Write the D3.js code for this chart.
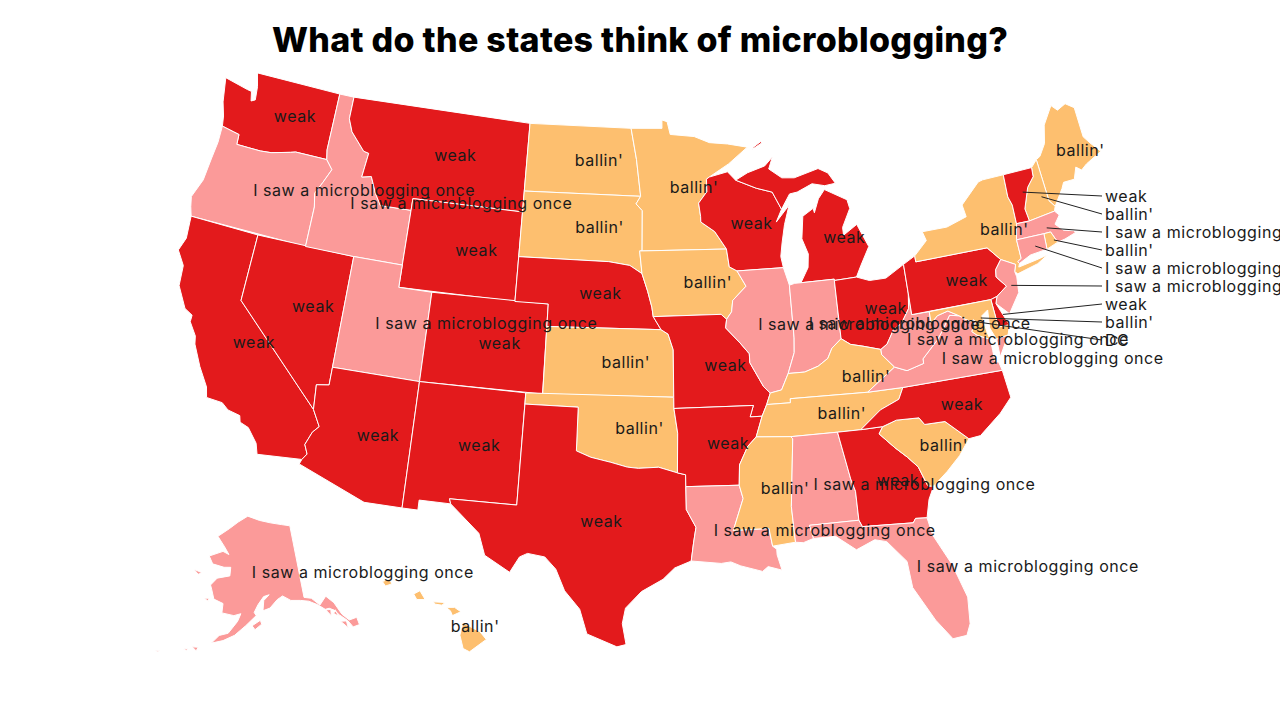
<!DOCTYPE html>
<html>
<head>
<meta charset="utf-8">
<script src="https://cdn.jsdelivr.net/npm/d3@7"></script>
<style>
  html, body { margin: 0; background: #fff; }
  text { font-family: Inter, "Open Sans", sans-serif; fill: #1a1a1a; }
</style>
</head>
<body>
<svg id="chart"></svg>
<script>
// map.js

var title = "What do the states think of microblogging?";

var categories = ["weak", "I saw a microblogging once", "ballin'"];
var palette = ["#e31a1c", "#fb9a99", "#fdbf6f"];

var stateCodes = ["WA","OR","CA","NV","ID","MT","WY","UT","AZ","CO","NM","ND","SD","NE","KS","OK","TX",
  "MN","IA","MO","AR","LA","WI","IL","MI","IN","OH","KY","TN","MS","AL","GA","FL","SC","NC","VA","WV",
  "PA","NY","ME","NH","VT","MA","RI","CT","NJ","DE","MD","DC","AK","HI"];

// index into categories, same order as stateCodes
var stateValues = [0,1,0,0,1,0,0,1,0,0,0,2,2,0,2,2,0,
  2,2,0,0,1,0,1,0,1,0,2,2,2,1,0,1,2,0,1,1,
  0,2,2,2,0,1,2,1,1,0,2,1,1,2];

// the small eastern states get a line out to the right instead
var calloutStates = ["VT","NH","MA","RI","CT","NJ","DE","MD","DC"];
var calloutTexts = ["weak","ballin'","I saw a microblogging once","ballin'","I saw a microblogging once",
  "I saw a microblogging once","weak","ballin'","DC"];

// state outlines, "lon,lat"
var stateRings = {
  WA: ["-124.7,48.38 -123.1,48.15 -122.8,48.12 -122.65,47.7 -122.4,47.8 -122.5,48.4 -122.76,49 -117.03,49 -117.04,46.42 -116.92,45.99 -118.98,46 -119.3,45.93 -120.5,45.7 -121.2,45.65 -122,45.65 -122.76,45.65 -122.8,46.1 -123.2,46.15 -123.98,46.25 -124.1,46.7 -124.4,47.3"],
  OR: ["-123.98,46.25 -123.2,46.15 -122.8,46.1 -122.76,45.65 -122,45.65 -121.2,45.65 -120.5,45.7 -119.3,45.93 -118.98,46 -116.92,45.99 -116.46,45.6 -116.85,44.95 -117.2,44.4 -117.03,43.8 -117.03,42 -124.21,42 -124.4,42.4 -124.55,42.84 -124.15,43.7 -124.05,44.7 -123.95,45.5"],
  CA: ["-124.21,42 -120,42 -120,39 -114.63,35 -114.14,34.3 -114.45,34 -114.72,33.4 -114.5,33 -114.72,32.72 -117.12,32.53 -117.3,33 -117.9,33.6 -118.4,33.75 -118.5,34.03 -119.2,34.15 -119.6,34.4 -120.5,34.45 -120.65,34.9 -121.3,35.7 -121.9,36.6 -122,36.95 -122.5,37.5 -122.5,37.8 -123,38 -123.7,38.9 -123.8,39.8 -124.35,40.4 -124.1,41"],
  NV: ["-120,42 -114.04,42 -114.04,36.2 -114.74,36.1 -114.63,35 -120,39"],
  ID: ["-117.03,49 -116.05,49 -116.05,48 -115.7,47.45 -114.7,46.7 -114.35,46.65 -114.5,45.55 -113.9,45.65 -113.45,44.95 -113,44.45 -111.05,44.47 -111.05,42 -114.04,42 -117.03,42 -117.03,43.8 -117.2,44.4 -116.85,44.95 -116.46,45.6 -116.92,45.99 -117.04,46.42"],
  MT: ["-116.05,49 -104.05,49 -104.05,45 -111.05,45 -111.05,44.47 -113,44.45 -113.45,44.95 -113.9,45.65 -114.5,45.55 -114.35,46.65 -114.7,46.7 -115.7,47.45 -116.05,48"],
  WY: ["-111.05,45 -104.05,45 -104.05,41 -111.05,41"],
  UT: ["-114.04,42 -111.05,42 -111.05,41 -109.05,41 -109.05,37 -114.04,37"],
  AZ: ["-114.04,37 -109.05,37 -109.05,31.33 -111.07,31.33 -114.81,32.5 -114.72,32.72 -114.5,33 -114.72,33.4 -114.45,34 -114.14,34.3 -114.63,35 -114.74,36.1 -114.04,36.2"],
  CO: ["-109.05,41 -102.05,41 -102.05,37 -109.05,37"],
  NM: ["-109.05,37 -103,37 -103.04,32 -106.62,32 -106.53,31.78 -108.21,31.78 -108.21,31.33 -109.05,31.33"],
  ND: ["-104.05,49 -97.23,49 -96.85,47.6 -96.56,45.94 -104.05,45.94"],
  SD: ["-104.05,45.94 -96.56,45.94 -96.85,45.6 -96.45,45.3 -96.45,43.5 -96.6,43.5 -96.45,42.49 -97.2,42.85 -98.5,43 -104.05,43"],
  NE: ["-104.05,43 -98.5,43 -97.2,42.85 -96.45,42.49 -96.1,41.7 -95.85,41 -95.77,40.58 -95.31,40 -102.05,40 -102.05,41 -104.05,41"],
  KS: ["-102.05,40 -95.31,40 -94.9,39.8 -94.61,39.1 -94.62,37 -102.04,37"],
  OK: ["-103,37 -94.62,37 -94.62,36.5 -94.43,35.4 -94.48,33.64 -95.5,33.9 -96.6,33.85 -97.2,33.9 -98.1,34.1 -99.2,34.3 -100,34.56 -100,36.5 -103,36.5"],
  TX: ["-106.62,32 -103.04,32 -103,36.5 -100,36.5 -100,34.56 -99.2,34.3 -98.1,34.1 -97.2,33.9 -96.6,33.85 -95.5,33.9 -94.48,33.64 -94.04,33.55 -94.04,33.02 -94.04,32 -93.55,31.2 -93.7,30.5 -93.84,29.7 -94.7,29.4 -95.3,28.9 -96.4,28.35 -97.2,27.6 -97.35,26.9 -97.15,25.96 -97.6,25.85 -99.1,26.4 -99.5,27.5 -100.3,28.3 -100.8,29.25 -101.4,29.77 -102.3,29.88 -102.7,29.7 -103.15,28.98 -104.5,29.65 -104.9,30.6 -106.53,31.78"],
  MN: ["-97.23,49 -95.15,49 -95.15,49.38 -94.8,49.3 -94.6,48.72 -93,48.6 -92,48.3 -90.8,48.2 -89.5,48 -90.8,47.3 -92.1,46.75 -92.29,46.66 -92.29,46.1 -92.85,45.6 -92.75,45 -92.75,44.75 -91.9,44.3 -91.22,43.5 -96.45,43.5 -96.45,45.3 -96.85,45.6 -96.56,45.94 -96.85,47.6"],
  IA: ["-96.6,43.5 -96.45,43.5 -91.22,43.5 -91.1,42.7 -90.64,42.5 -90.15,41.8 -91,41.2 -91.1,40.7 -91.42,40.38 -91.73,40.61 -95.77,40.58 -95.85,41 -96.1,41.7 -96.45,42.49"],
  MO: ["-95.77,40.58 -91.73,40.61 -91.42,40.38 -91.5,40 -90.7,39.3 -90.2,38.8 -90.2,38.4 -89.5,37.3 -89.15,37 -89.4,36.5 -89.7,36 -90.37,36 -90.15,36.5 -94.62,36.5 -94.62,37 -94.61,39.1 -94.9,39.8 -95.31,40"],
  AR: ["-94.62,36.5 -90.15,36.5 -90.37,36 -89.7,36 -90.1,35.1 -90.6,34.7 -91.1,33.9 -91.17,33 -94.04,33.02 -94.04,33.55 -94.48,33.64 -94.43,35.4"],
  LA: ["-94.04,33.02 -91.17,33 -91,32.4 -91.6,31 -89.73,31 -89.6,30.2 -89.4,30.05 -89.4,29.8 -89.2,29.1 -89.9,29.3 -90.2,29.1 -91.3,29.4 -91.8,29.6 -92.3,29.55 -93.84,29.7 -93.7,30.5 -93.55,31.2 -94.04,32"],
  WI: ["-92.29,46.66 -92.1,46.75 -90.9,46.95 -90.4,46.55 -89.1,46.13 -88.1,45.9 -87.6,45.1 -88,44.55 -87.1,45.25 -87.5,44.4 -87.75,43.6 -87.9,43 -87.8,42.5 -90.64,42.5 -91.1,42.7 -91.22,43.5 -91.9,44.3 -92.75,44.75 -92.75,45 -92.85,45.6 -92.29,46.1"],
  IL: ["-90.64,42.5 -87.8,42.5 -87.53,41.7 -87.53,39.35 -87.6,38.7 -88.05,37.8 -88.5,37.1 -89.15,37 -89.5,37.3 -90.2,38.4 -90.2,38.8 -90.7,39.3 -91.5,40 -91.42,40.38 -91.1,40.7 -91,41.2 -90.15,41.8"],
  MI: ["-90.4,46.55 -89.6,46.85 -88.45,47.1 -87.9,47.47 -88.2,46.95 -87.4,46.5 -86.6,46.45 -85,46.75 -84.4,46.5 -84,46 -84.7,45.95 -85.5,46.1 -86.5,45.8 -87,45.75 -87.6,45.1 -88.1,45.9 -89.1,46.13",
    "-86.82,41.76 -86.3,42.4 -86.2,43 -86.5,43.7 -86.3,44.7 -85.6,45 -85.55,44.8 -85.2,45.4 -84.75,45.78 -83.4,45.2 -83.3,44.8 -83.9,44 -83.9,43.65 -83,44.05 -82.45,43 -83.1,42.2 -83.45,41.73 -84.8,41.7 -84.8,41.76",
    "-89.2,47.88 -88.5,48.15 -88.6,48.2 -89.1,47.98"],
  IN: ["-87.53,41.7 -87.2,41.76 -86.82,41.76 -84.8,41.76 -84.8,41.7 -84.81,39.1 -85.4,38.73 -85.7,38.3 -86.3,38 -87.1,37.8 -88.05,37.8 -87.6,38.7 -87.53,39.35"],
  OH: ["-84.8,41.7 -83.45,41.73 -82.7,41.5 -81.7,41.5 -80.52,41.98 -80.52,40.64 -80.65,40 -81.2,39.4 -81.7,39.2 -82.2,38.6 -82.6,38.4 -83.6,38.65 -84.3,38.8 -84.81,39.1"],
  KY: ["-89.4,36.5 -89.15,37 -88.5,37.1 -88.05,37.8 -87.1,37.8 -86.3,38 -85.7,38.3 -85.4,38.73 -84.81,39.1 -84.3,38.8 -83.6,38.65 -82.6,38.4 -82.6,38.17 -81.97,37.54 -83.68,36.6 -88.05,36.68 -88.06,36.5"],
  TN: ["-89.7,36 -89.4,36.5 -88.06,36.5 -88.05,36.68 -83.68,36.6 -81.68,36.59 -82,36.1 -83.1,35.75 -84.32,34.99 -85.61,35 -88.2,35 -90.1,35.1"],
  MS: ["-90.1,35.1 -88.2,35 -88.1,34.9 -88.47,31.9 -88.4,30.3 -89.6,30.2 -89.73,31 -91.6,31 -91,32.4 -91.17,33 -91.1,33.9 -90.6,34.7"],
  AL: ["-88.2,35 -85.61,35 -85.18,32.87 -85,32.3 -85,31 -87.6,31 -87.45,30.4 -88,30.25 -88.4,30.3 -88.47,31.9 -88.1,34.9"],
  GA: ["-85.61,35 -84.32,34.99 -83.1,35 -83.35,34.7 -82.6,34 -82,33.5 -81.5,33 -81.15,32.1 -80.85,32.05 -81.2,31.5 -81.45,30.7 -82.05,30.75 -82.2,30.57 -84.86,30.7 -85,31 -85,32.3 -85.18,32.87"],
  FL: ["-87.6,31 -85,31 -84.86,30.7 -82.2,30.57 -82.05,30.75 -81.45,30.7 -81.3,29.9 -80.55,28.45 -80.05,26.9 -80.15,25.7 -80.4,25.2 -81.1,25.15 -81.8,26.1 -82.7,27.7 -82.8,28.9 -83.7,29.9 -84.3,30.05 -85.3,29.7 -86.3,30.4 -87.45,30.4"],
  SC: ["-83.1,35 -82.3,35.2 -81.05,35.15 -80.8,34.82 -79.67,34.8 -78.55,33.86 -79.2,33.2 -80,32.6 -80.85,32.05 -81.15,32.1 -81.5,33 -82,33.5 -82.6,34 -83.35,34.7"],
  NC: ["-84.32,34.99 -83.1,35.75 -82,36.1 -81.68,36.59 -76,36.55 -75.85,35.3 -76.6,34.7 -77.9,33.9 -78.55,33.86 -79.67,34.8 -80.8,34.82 -81.05,35.15 -82.3,35.2 -83.1,35"],
  VA: ["-83.68,36.6 -81.97,37.54 -81.3,37.3 -80.3,37.5 -80.3,37.7 -79.3,38.42 -78.9,38.8 -78.35,39.4 -77.8,39.3 -77.5,39.1 -77.12,38.93 -77.04,38.79 -77.25,38.5 -77,38.3 -76.3,38 -76.3,37.5 -76.3,37 -76.1,36.93 -76,36.55 -81.68,36.59",
    "-75.95,37.95 -75.25,38.03 -75.95,37.15"],
  WV: ["-82.6,38.17 -82.6,38.4 -82.2,38.6 -81.7,39.2 -81.2,39.4 -80.65,40 -80.52,40.64 -80.52,39.72 -79.48,39.72 -79.48,39.2 -79.05,39.48 -78.4,39.6 -77.8,39.3 -78.35,39.4 -78.9,38.8 -79.3,38.42 -80.3,37.7 -80.3,37.5 -81.3,37.3 -81.97,37.54"],
  PA: ["-80.52,41.98 -79.76,42.27 -79.76,42 -75.35,42 -74.7,41.36 -75.13,40.97 -75.2,40.65 -74.72,40.15 -75.4,39.8 -75.79,39.72 -80.52,39.72"],
  NY: ["-79.76,42.27 -78.9,42.85 -79.05,43.27 -77.5,43.27 -76.2,43.55 -76.3,44.1 -75,44.95 -74.7,45 -73.35,45.01 -73.4,44 -73.25,43.6 -73.27,42.75 -73.5,42.05 -73.49,41.2 -73.73,41.1 -73.66,41 -73.75,40.85 -72.6,40.98 -71.9,41.07 -72.6,40.8 -73.9,40.57 -74.05,40.7 -73.9,41 -74.7,41.36 -75.35,42 -79.76,42"],
  NJ: ["-74.7,41.36 -73.9,41 -74.05,40.7 -74,40.45 -74.1,39.75 -74.9,38.93 -75.55,39.5 -75.4,39.8 -74.72,40.15 -75.2,40.65 -75.13,40.97"],
  DE: ["-75.79,39.72 -75.4,39.8 -75.55,39.5 -75.05,38.45 -75.7,38.46"],
  MD: ["-79.48,39.72 -75.79,39.72 -75.7,38.46 -75.05,38.45 -75.25,38.03 -75.95,37.95 -76.2,38.5 -76.1,39.3 -76.5,39.1 -76.4,38.3 -76.3,38 -77,38.3 -77.25,38.5 -77.04,38.79 -76.91,38.89 -77.04,39 -77.12,38.93 -77.5,39.1 -77.8,39.3 -78.4,39.6 -79.05,39.48 -79.48,39.2"],
  DC: ["-77.12,38.93 -77.04,39 -76.91,38.89 -77.04,38.79"],
  ME: ["-71.08,45.3 -70.8,45.4 -70.3,45.9 -70,46.7 -69.23,47.46 -68.9,47.18 -68.3,47.36 -67.8,47.07 -67.8,45.7 -67.45,45.3 -67,44.85 -68.1,44.5 -68.5,44.3 -68.8,44.5 -69.1,44 -69.8,44 -70,43.75 -70.7,43.07 -70.98,43.38"],
  NH: ["-71.5,45.01 -71.08,45.3 -70.98,43.38 -70.7,43.07 -70.82,42.87 -72.46,42.73 -72.55,43.3 -72.05,44.2 -71.55,44.6"],
  VT: ["-73.35,45.01 -71.5,45.01 -71.55,44.6 -72.05,44.2 -72.55,43.3 -72.46,42.73 -73.27,42.75 -73.25,43.6 -73.4,44"],
  MA: ["-73.5,42.05 -73.27,42.75 -72.46,42.73 -70.82,42.87 -70.6,42.65 -71,42.3 -70.6,41.95 -70,41.8 -70.05,42.05 -69.95,41.7 -70.65,41.55 -71.12,41.5 -71.38,42.02 -71.8,42.02"],
  RI: ["-71.8,42.02 -71.38,42.02 -71.12,41.5 -71.85,41.32"],
  CT: ["-73.5,42.05 -71.8,42.02 -71.85,41.32 -72.9,41.25 -73.66,41 -73.73,41.1 -73.49,41.2"],
  AK: ["-141,69.65 -141,60.3 -139.2,60 -137.5,58.9 -135.5,59.8 -134,58.7 -133,57 -131.8,56 -130,56 -130,55 -131.5,55 -132.2,56 -133.6,57 -134.5,57.8 -135.5,58.2 -136.5,58.2 -138,59 -140,59.7 -142,60 -144.5,60.2 -146.5,60.9 -148,60.5 -150,59.5 -151.8,59.2 -151.5,60.5 -150,61.2 -151.5,61 -153,60 -154,59 -153.5,58.6 -156,57.3 -158.5,56 -161,55.2 -163.5,54.7 -162,55.8 -160,56.2 -158,57.8 -157.3,58.8 -159,58.5 -162,58.7 -162,59.9 -164.5,60.3 -165.5,61.5 -166,62 -164.5,63 -161,63.5 -161,64.6 -163,64.5 -166.5,64.7 -168,65.6 -164,66.5 -162,66.2 -163.7,67.1 -166.5,68.3 -163,69.5 -160,70.5 -156.5,71.35 -152,70.8 -148,70.4 -144,70",
    "-154.5,57.3 -152.5,58 -152.2,57.5 -153.8,56.8",
    "-171.5,63.5 -169,63.3 -170,63",
    "-167,60.2 -165.8,60.3 -165.8,59.9",
    "-167.5,53.8 -166.2,53.9 -166.5,53.4",
    "-169.2,53.3 -168.4,53.5 -168.5,53.2",
    "-174.8,52.1 -174,52.3 -174.2,52.05",
    "-136.4,58.1 -135.2,58 -135.5,57.2",
    "-134.8,57.4 -134.2,57.8 -133.9,56.9",
    "-133.8,56.2 -132.5,56 -132.6,55.1"],
  HI: ["-155.9,20.25 -155.1,19.85 -154.8,19.5 -155.6,18.95 -155.9,19.1 -156.05,19.7",
    "-156.7,20.95 -156.3,20.95 -156,20.75 -156.4,20.58 -156.5,20.8",
    "-158.25,21.55 -157.95,21.7 -157.7,21.3 -158.1,21.3",
    "-159.75,22.1 -159.4,22.23 -159.3,22 -159.6,21.9",
    "-157.3,21.2 -156.75,21.17 -156.9,21.05 -157.25,21.1"]
};

var width = 1280, height = 720;

var chart = d3.select("#chart").attr("width", width).attr("height", height);

var projection = d3.geoAlbersUsa().scale(1280).translate([639, 359]);
var path = d3.geoPath(projection);

var color = d3.scaleOrdinal().domain(categories).range(palette);

// d3 wants rings wound the spherical way, flip the ones that came out inside-out
function toRing(str) {
  var ring = str.split(" ").map(function(p) { return p.split(",").map(Number); });
  ring.push(ring[0]);
  if (d3.geoArea({type: "Polygon", coordinates: [ring]}) > 2 * Math.PI) ring.reverse();
  return [ring];
}

var features = stateCodes.map(function(code, i) {
  return {
    type: "Feature",
    id: code,
    value: categories[stateValues[i]],
    geometry: {type: "MultiPolygon", coordinates: stateRings[code].map(toRing)}
  };
});

chart.append("text")
    .attr("x", 640)
    .attr("y", 52)
    .attr("text-anchor", "middle")
    .attr("textLength", 736)
    .style("font-size", "34px")
    .style("font-weight", 800)
    .style("fill", "#000")
    .text(title);

chart.append("g").selectAll("path")
    .data(features)
  .enter().append("path")
    .attr("d", path)
    .style("fill", function(d) { return color(d.value); })
    .style("stroke", "#fff")
    .style("stroke-width", 1);

// labels start just left of the centroid, a few states sit off from it
var labelDx = -7, labelDy = 0;
var labelNudge = {FL: [9, 0], LA: [-6, 0], NY: [7, 2], KY: [12, 2], MI: [12, 13], WI: [-7, 1], IN: [2, 0], ID: [3, 0], NC: [-3, 1]};

function labelPos(d) {
  var c = path.centroid(d), n = labelNudge[d.id] || [0, 0];
  return [c[0] + labelDx + n[0], c[1] + labelDy + n[1]];
}

chart.append("g").selectAll("text")
    .data(features.filter(function(d) { return calloutStates.indexOf(d.id) < 0; }))
  .enter().append("text")
    .attr("x", function(d) { return labelPos(d)[0]; })
    .attr("y", function(d) { return labelPos(d)[1]; })
    .attr("dy", "0.35em")
    .style("font-size", "16px")
    .style("letter-spacing", "0.55px")
    .text(function(d) { return d.value; });

var calloutY = d3.scaleLinear().domain([0, calloutStates.length - 1]).range([196, 340]);
var calloutDx = 4;

var callouts = chart.append("g").selectAll("g")
    .data(calloutStates)
  .enter().append("g");

callouts.append("line")
    .attr("x1", function(code) { return path.centroid(features[stateCodes.indexOf(code)])[0] + calloutDx; })
    .attr("y1", function(code) { return path.centroid(features[stateCodes.indexOf(code)])[1]; })
    .attr("x2", 1102)
    .attr("y2", function(code, i) { return calloutY(i); })
    .style("stroke", "#222")
    .style("stroke-width", 1);

callouts.append("text")
    .attr("x", 1105)
    .attr("y", function(code, i) { return calloutY(i); })
    .attr("dy", "0.35em")
    .style("font-size", "16px")
    .style("letter-spacing", "0.55px")
    .text(function(code, i) { return calloutTexts[i]; });
</script>
</body>
</html>
